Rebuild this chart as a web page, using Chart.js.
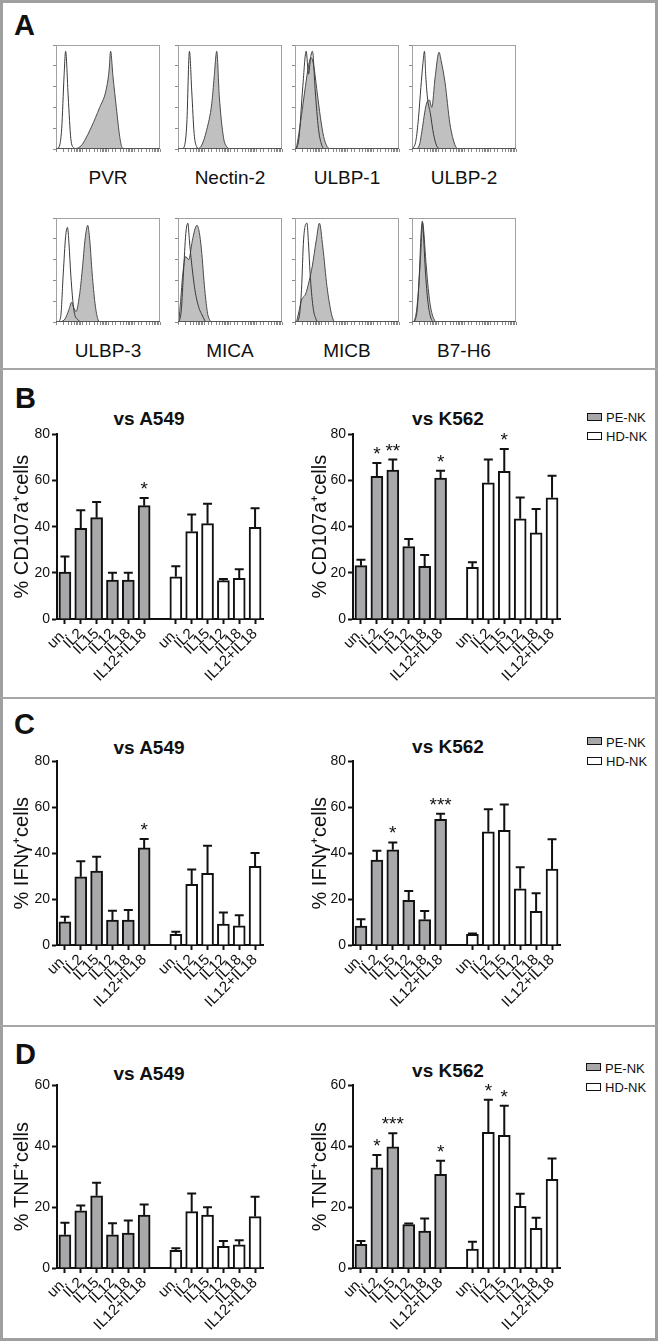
<!DOCTYPE html>
<html>
<head>
<meta charset="utf-8">
<script src="https://cdn.jsdelivr.net/npm/chart.js@4.4.1/dist/chart.umd.min.js"></script>
<style>
  body { margin: 0; background: #fff; }
  #page { position: relative; width: 661px; height: 1341px; overflow: hidden;
          font-family: "Liberation Sans", Arial, sans-serif; color: #111; }
  #frame { position: absolute; left: 0; top: 0; width: 652px; height: 1335px; border: 3px solid #a0a0a0; }
  .rule { position: absolute; left: 0; width: 658px; height: 2px; background: #a6a6a6; }
  .abs { position: absolute; white-space: nowrap; line-height: 1; }
  .letter { font-weight: bold; font-size: 29px; }
  .title { font-weight: bold; font-size: 19px; width: 200px; text-align: center; }
  .hlabel { font-size: 19px; width: 120px; text-align: center; }
  .leg { font-size: 13px; }
  .swatch { position: absolute; width: 13px; height: 6px; border: 1.5px solid #111; }
  canvas { position: absolute; }
</style>
</head>
<body>
<div id="page">
  <div id="frame"></div>
  <div class="rule" style="top:368px"></div>
  <div class="rule" style="top:697px"></div>
  <div class="rule" style="top:1025px"></div>

  <div class="abs letter" style="left:14px; top:11px">A</div>
  <div class="abs letter" style="left:15px; top:384px">B</div>
  <div class="abs letter" style="left:14px; top:710px">C</div>
  <div class="abs letter" style="left:15px; top:1040px">D</div>

  <div class="abs title" style="left:49px; top:409px">vs A549</div>
  <div class="abs title" style="left:348px; top:409px">vs K562</div>
  <div class="abs title" style="left:49px; top:738px">vs A549</div>
  <div class="abs title" style="left:348px; top:737px">vs K562</div>
  <div class="abs title" style="left:49px; top:1064px">vs A549</div>
  <div class="abs title" style="left:348px; top:1061px">vs K562</div>

  <div class="swatch" style="left:587px; top:413px; background:#a8a8aa"></div>
  <div class="abs leg" style="left:606px; top:411px">PE-NK</div>
  <div class="swatch" style="left:587px; top:432px; background:#fff"></div>
  <div class="abs leg" style="left:606px; top:430px">HD-NK</div>

  <div class="swatch" style="left:587px; top:737px; background:#a8a8aa"></div>
  <div class="abs leg" style="left:606px; top:736px">PE-NK</div>
  <div class="swatch" style="left:587px; top:757px; background:#fff"></div>
  <div class="abs leg" style="left:606px; top:755px">HD-NK</div>

  <div class="swatch" style="left:586px; top:1063px; background:#a8a8aa"></div>
  <div class="abs leg" style="left:605px; top:1062px">PE-NK</div>
  <div class="swatch" style="left:586px; top:1083px; background:#fff"></div>
  <div class="abs leg" style="left:605px; top:1081px">HD-NK</div>
</div>
<script>
// ---- panel A : ligand staining (log10 fluorescence, % of max) ----
const markers = ['PVR', 'Nectin-2', 'ULBP-1', 'ULBP-2', 'ULBP-3', 'MICA', 'MICB', 'B7-H6'];

const pvrIso = [[0.02,0],[0.12,2],[0.22,20],[0.31,70],[0.37,94],[0.47,50],[0.57,10],[0.69,1],[0.8,0]];
const pvrStain = [[0.7,0],[0.85,1],[1.0,4],[1.1,8],[1.36,21],[1.68,40],[1.91,55],[2.04,75],[2.1,94],[2.19,70],[2.32,40],[2.45,12],[2.55,1],[2.65,0]];
const nectinIso = [[0.15,0],[0.25,3],[0.34,25],[0.44,94],[0.53,55],[0.62,15],[0.72,2],[0.82,0]];
const nectinStain = [[0.75,0],[0.9,3],[1.1,18],[1.3,44],[1.39,69],[1.49,94],[1.59,50],[1.75,11],[1.88,2],[1.98,0]];
const ulbp1Iso = [[0.05,0],[0.15,10],[0.3,60],[0.43,94],[0.52,72],[0.6,88],[0.67,94],[0.78,55],[0.9,20],[1.0,6],[1.1,0]];
const ulbp1Stain = [[0.05,0],[0.15,15],[0.28,38],[0.4,60],[0.52,80],[0.62,88],[0.72,80],[0.85,55],[0.98,30],[1.1,12],[1.22,3],[1.32,0]];
const ulbp2Iso = [[0.03,0],[0.15,8],[0.25,30],[0.34,59],[0.42,82],[0.48,94],[0.53,70],[0.6,48],[0.7,35],[0.83,14],[0.95,3],[1.05,0]];
const ulbp2Stain = [[0.2,0],[0.3,5],[0.38,17],[0.55,43],[0.67,47],[0.76,40],[0.89,69],[1.04,93],[1.12,85],[1.27,64],[1.46,24],[1.65,4],[1.75,0]];
const ulbp3Iso = [[0.08,0],[0.18,5],[0.28,47],[0.37,82],[0.44,91],[0.5,75],[0.57,45],[0.69,11],[0.85,2],[0.95,0]];
const ulbp3Stain = [[0.18,0],[0.35,3],[0.5,12],[0.6,19],[0.68,14],[0.77,10],[0.9,25],[1.01,50],[1.12,80],[1.22,93],[1.3,78],[1.39,47],[1.5,18],[1.62,2],[1.7,0]];
const micaIso = [[0.05,0],[0.13,12],[0.21,47],[0.3,85],[0.38,95],[0.44,78],[0.5,62],[0.65,31],[0.8,14],[0.9,8],[1.06,0]];
const micaStain = [[0.03,0],[0.1,20],[0.18,45],[0.29,63],[0.41,60],[0.55,78],[0.66,90],[0.73,93],[0.82,86],[0.9,70],[1.03,31],[1.14,8],[1.26,0]];
const micbIso = [[0.1,0],[0.18,8],[0.25,31],[0.33,79],[0.46,95],[0.52,75],[0.58,47],[0.69,15],[0.82,2],[0.9,0]];
const micbStain = [[0.06,0],[0.15,10],[0.25,21],[0.41,27],[0.55,40],[0.66,53],[0.82,79],[0.94,95],[1.07,72],[1.23,34],[1.4,8],[1.5,0]];
const b7h6Iso = [[0.1,0],[0.2,12],[0.28,45],[0.35,85],[0.4,97],[0.45,80],[0.5,55],[0.6,22],[0.7,6],[0.8,0]];
const b7h6Stain = [[0.08,0],[0.17,10],[0.25,31],[0.33,63],[0.41,95],[0.46,85],[0.52,63],[0.66,24],[0.77,8],[0.9,0]];

// ---- panels B-D : % positive NK cells, mean and SEM ----
const categories = ['un.', 'IL2', 'IL15', 'IL12', 'IL18', 'IL12+IL18'];
const ticks80 = [0, 20, 40, 60, 80];
const ticks60 = [0, 20, 40, 60];

const cd107A549PE = [20.3, 39.3, 43.9, 16.9, 16.9, 49.1];
const cd107A549PEsem = [6.8, 7.8, 6.8, 3.1, 3.1, 3.3];
const cd107A549PEsig = ['', '', '', '', '', '*'];
const cd107A549HD = [18.3, 37.9, 41.3, 16.6, 17.6, 39.7];
const cd107A549HDsem = [4.6, 7.4, 8.6, 0.7, 4.0, 8.3];
const cd107A549HDsig = ['', '', '', '', '', ''];

const cd107K562PE = [23.1, 61.8, 64.5, 31.4, 22.8, 61.1];
const cd107K562PEsem = [2.6, 5.8, 4.6, 3.3, 4.9, 3.2];
const cd107K562PEsig = ['', '*', '**', '', '', '*'];
const cd107K562HD = [22.4, 59.0, 64.0, 43.4, 37.3, 52.5];
const cd107K562HDsem = [2.2, 10.1, 9.7, 9.3, 10.4, 9.6];
const cd107K562HDsig = ['', '', '*', '', '', ''];

const ifnA549PE = [10.1, 29.7, 32.2, 10.9, 10.9, 42.3];
const ifnA549PEsem = [2.2, 6.8, 6.2, 4.0, 4.3, 3.9];
const ifnA549PEsig = ['', '', '', '', '', '*'];
const ifnA549HD = [4.6, 26.4, 31.2, 9.1, 8.4, 34.3];
const ifnA549HDsem = [1.2, 6.5, 12.0, 5.1, 4.6, 5.8];
const ifnA549HDsig = ['', '', '', '', '', ''];

const ifnK562PE = [8.2, 37.0, 41.5, 19.5, 11.1, 54.8];
const ifnK562PEsem = [3.0, 4.1, 3.2, 4.0, 3.7, 2.4];
const ifnK562PEsig = ['', '', '*', '', '', '***'];
const ifnK562HD = [4.6, 49.3, 50.0, 24.5, 14.7, 33.1];
const ifnK562HDsem = [0.4, 9.8, 11.2, 9.4, 7.9, 13.0];
const ifnK562HDsig = ['', '', '', '', '', ''];

const tnfA549PE = [10.9, 18.8, 23.7, 10.9, 11.5, 17.4];
const tnfA549PEsem = [4.0, 1.7, 4.3, 3.8, 4.1, 3.5];
const tnfA549PEsig = ['', '', '', '', '', ''];
const tnfA549HD = [5.8, 18.5, 17.4, 7.1, 7.6, 16.9];
const tnfA549HDsem = [0.7, 6.0, 2.6, 1.8, 1.5, 6.5];
const tnfA549HDsig = ['', '', '', '', '', ''];

const tnfK562PE = [7.8, 32.9, 39.8, 14.3, 12.1, 30.8];
const tnfK562PEsem = [1.1, 4.2, 4.5, 0.3, 4.2, 4.4];
const tnfK562PEsig = ['', '*', '***', '', '', '*'];
const tnfK562HD = [6.2, 44.6, 43.6, 20.3, 13.0, 29.1];
const tnfK562HDsem = [2.4, 10.7, 9.7, 4.1, 3.5, 6.9];
const tnfK562HDsig = ['', '*', '*', '', '', ''];

const FONT = '"Liberation Sans", Arial, sans-serif';
const INK = '#111';
const GRAY = '#a8a8aa';
Chart.defaults.font.family = FONT;
Chart.defaults.color = INK;

function addCanvas(left, top, w, h) {
  const c = document.createElement('canvas');
  c.width = w; c.height = h;
  c.style.left = left + 'px'; c.style.top = top + 'px';
  c.style.width = w + 'px'; c.style.height = h + 'px';
  document.getElementById('page').appendChild(c);
  return c;
}

// box around each histogram
const frame = {
  id: 'frame',
  afterDatasetsDraw(chart) {
    const a = chart.chartArea, ctx = chart.ctx;
    ctx.save();
    ctx.strokeStyle = '#a2a2a2';
    ctx.lineWidth = 1;
    ctx.strokeRect(a.left + 0.5, a.top + 0.5, a.width - 1, a.height - 1);
    ctx.strokeStyle = '#555';
    ctx.beginPath(); ctx.moveTo(a.left, a.bottom - 0.5); ctx.lineTo(a.right, a.bottom - 0.5); ctx.stroke();
    ctx.restore();
  }
};

function histogram(left, top, iso, stain) {
  const c = addCanvas(left - 4, top - 1, 109, 109);
  new Chart(c, {
    type: 'line',
    data: {
      datasets: [
        { data: iso, borderColor: '#3a3a3a', borderWidth: 1, fill: false, pointRadius: 0, cubicInterpolationMode: 'monotone' },
        { data: stain, borderColor: '#4a4a4a', borderWidth: 1, backgroundColor: '#c0c0c0', fill: 'origin', pointRadius: 0, cubicInterpolationMode: 'monotone' }
      ]
    },
    options: {
      responsive: false, animation: false, devicePixelRatio: 1,
      layout: { padding: { top: 1, right: 1, left: 0, bottom: 0 } },
      plugins: { legend: { display: false }, tooltip: { enabled: false } },
      scales: {
        x: { type: 'linear', min: 0, max: 4, display: false },
        xl: { type: 'logarithmic', position: 'bottom', min: 1, max: 10000,
              ticks: { display: false },
              grid: { drawOnChartArea: false, tickLength: 3, tickColor: '#8a8a8a', tickWidth: 1 },
              border: { display: false },
              afterFit: s => { s.height = 4; } },
        y: { min: 0, max: 100, ticks: { display: false, stepSize: 20 },
             grid: { drawOnChartArea: false, tickLength: 3, color: '#8a8a8a' },
             border: { display: false },
             afterFit: s => { s.width = 4; } }
      }
    },
    plugins: [frame]
  });
}

const histIso = [pvrIso, nectinIso, ulbp1Iso, ulbp2Iso, ulbp3Iso, micaIso, micbIso, b7h6Iso];
const histStain = [pvrStain, nectinStain, ulbp1Stain, ulbp2Stain, ulbp3Stain, micaStain, micbStain, b7h6Stain];
const boxLeft = [56, 178, 295, 412];
markers.forEach((m, i) => {
  const col = i % 4, row = Math.floor(i / 4);
  const top = row ? 218 : 45;
  histogram(boxLeft[col], top, histIso[i], histStain[i]);
  const lab = document.createElement('div');
  lab.className = 'abs hlabel';
  lab.textContent = m;
  lab.style.left = (boxLeft[col] + 52 - 60) + 'px';
  lab.style.top = (row ? 341 : 168) + 'px';
  document.getElementById('page').appendChild(lab);
});

// SEM whiskers and significance stars
const errorBars = {
  id: 'errorBars',
  afterDatasetsDraw(chart) {
    const ctx = chart.ctx, y = chart.scales.y;
    chart.data.datasets.forEach((ds, di) => {
      chart.getDatasetMeta(di).data.forEach((bar, i) => {
        const v = ds.data[i];
        if (v == null) return;
        const top = y.getPixelForValue(v + ds.sem[i]);
        ctx.save();
        ctx.strokeStyle = INK;
        ctx.lineWidth = 2;
        ctx.beginPath();
        ctx.moveTo(bar.x, bar.y);
        ctx.lineTo(bar.x, top);
        ctx.moveTo(bar.x - 4.5, top);
        ctx.lineTo(bar.x + 4.5, top);
        ctx.stroke();
        if (ds.sig[i]) {
          ctx.fillStyle = INK;
          ctx.font = '19px ' + FONT;
          ctx.textAlign = 'center';
          ctx.textBaseline = 'alphabetic';
          ctx.fillText(ds.sig[i], bar.x, top - 3);
        }
        ctx.restore();
      });
    });
  }
};

function barChart(left, yw, top, height, yTicks, yTitle, pe, peSem, peSig, hd, hdSem, hdSig) {
  const labels = categories.concat([''], categories);
  const none = categories.map(() => null);
  const c = addCanvas(left, top - 10, yw + (left < 100 ? 206 : 207) + 8, 10 + height + 76);
  new Chart(c, {
    type: 'bar',
    data: {
      labels: labels,
      datasets: [
        { label: 'PE-NK', data: pe.concat([null], none), sem: peSem.concat([0], none), sig: peSig.concat([''], none),
          backgroundColor: GRAY, borderColor: INK, borderWidth: 2, barThickness: 12, grouped: false },
        { label: 'HD-NK', data: none.concat([null], hd), sem: none.concat([0], hdSem), sig: none.concat([''], hdSig),
          backgroundColor: '#fff', borderColor: INK, borderWidth: 2, barThickness: 12, grouped: false }
      ]
    },
    options: {
      responsive: false, animation: false, devicePixelRatio: 1,
      layout: { padding: { top: 10, right: 8, left: 0, bottom: 0 } },
      plugins: { legend: { display: false }, tooltip: { enabled: false } },
      scales: {
        x: {
          offset: true,
          grid: { offset: false, drawOnChartArea: false, tickLength: 5, tickWidth: 2,
                  tickColor: ctx => labels[ctx.index] ? INK : 'rgba(0,0,0,0)' },
          border: { color: INK, width: 2 },
          ticks: { autoSkip: false, minRotation: 45, maxRotation: 45, padding: 1, color: INK, font: { size: 15 } },
          afterFit: s => { s.height = 76; }
        },
        y: {
          min: 0, max: yTicks[yTicks.length - 1],
          afterBuildTicks: s => { s.ticks = yTicks.map(v => ({ value: v })); },
          grid: { drawOnChartArea: false, tickLength: 5, tickWidth: 2, tickColor: INK },
          border: { color: INK, width: 2 },
          ticks: { padding: 2, color: INK, font: { size: 14 } },
          title: { display: true, text: yTitle, color: INK, font: { size: 20 }, padding: { top: 3, bottom: 0 } },
          afterFit: s => { s.width = yw; }
        }
      }
    },
    plugins: [errorBars]
  });
}

barChart(7, 50, 434, 185, ticks80, '% CD107a\u207Acells',
  cd107A549PE, cd107A549PEsem, cd107A549PEsig, cd107A549HD, cd107A549HDsem, cd107A549HDsig);
barChart(305, 48, 434, 185, ticks80, '% CD107a\u207Acells',
  cd107K562PE, cd107K562PEsem, cd107K562PEsig, cd107K562HD, cd107K562HDsem, cd107K562HDsig);
barChart(7, 50, 761, 184, ticks80, '% IFN\u03B3\u207Acells',
  ifnA549PE, ifnA549PEsem, ifnA549PEsig, ifnA549HD, ifnA549HDsem, ifnA549HDsig);
barChart(305, 48, 761, 184, ticks80, '% IFN\u03B3\u207Acells',
  ifnK562PE, ifnK562PEsem, ifnK562PEsig, ifnK562HD, ifnK562HDsem, ifnK562HDsig);
barChart(7, 50, 1085, 183, ticks60, '% TNF\u207Acells',
  tnfA549PE, tnfA549PEsem, tnfA549PEsig, tnfA549HD, tnfA549HDsem, tnfA549HDsig);
barChart(305, 48, 1085, 183, ticks60, '% TNF\u207Acells',
  tnfK562PE, tnfK562PEsem, tnfK562PEsig, tnfK562HD, tnfK562HDsem, tnfK562HDsig);
</script>
</body>
</html>
